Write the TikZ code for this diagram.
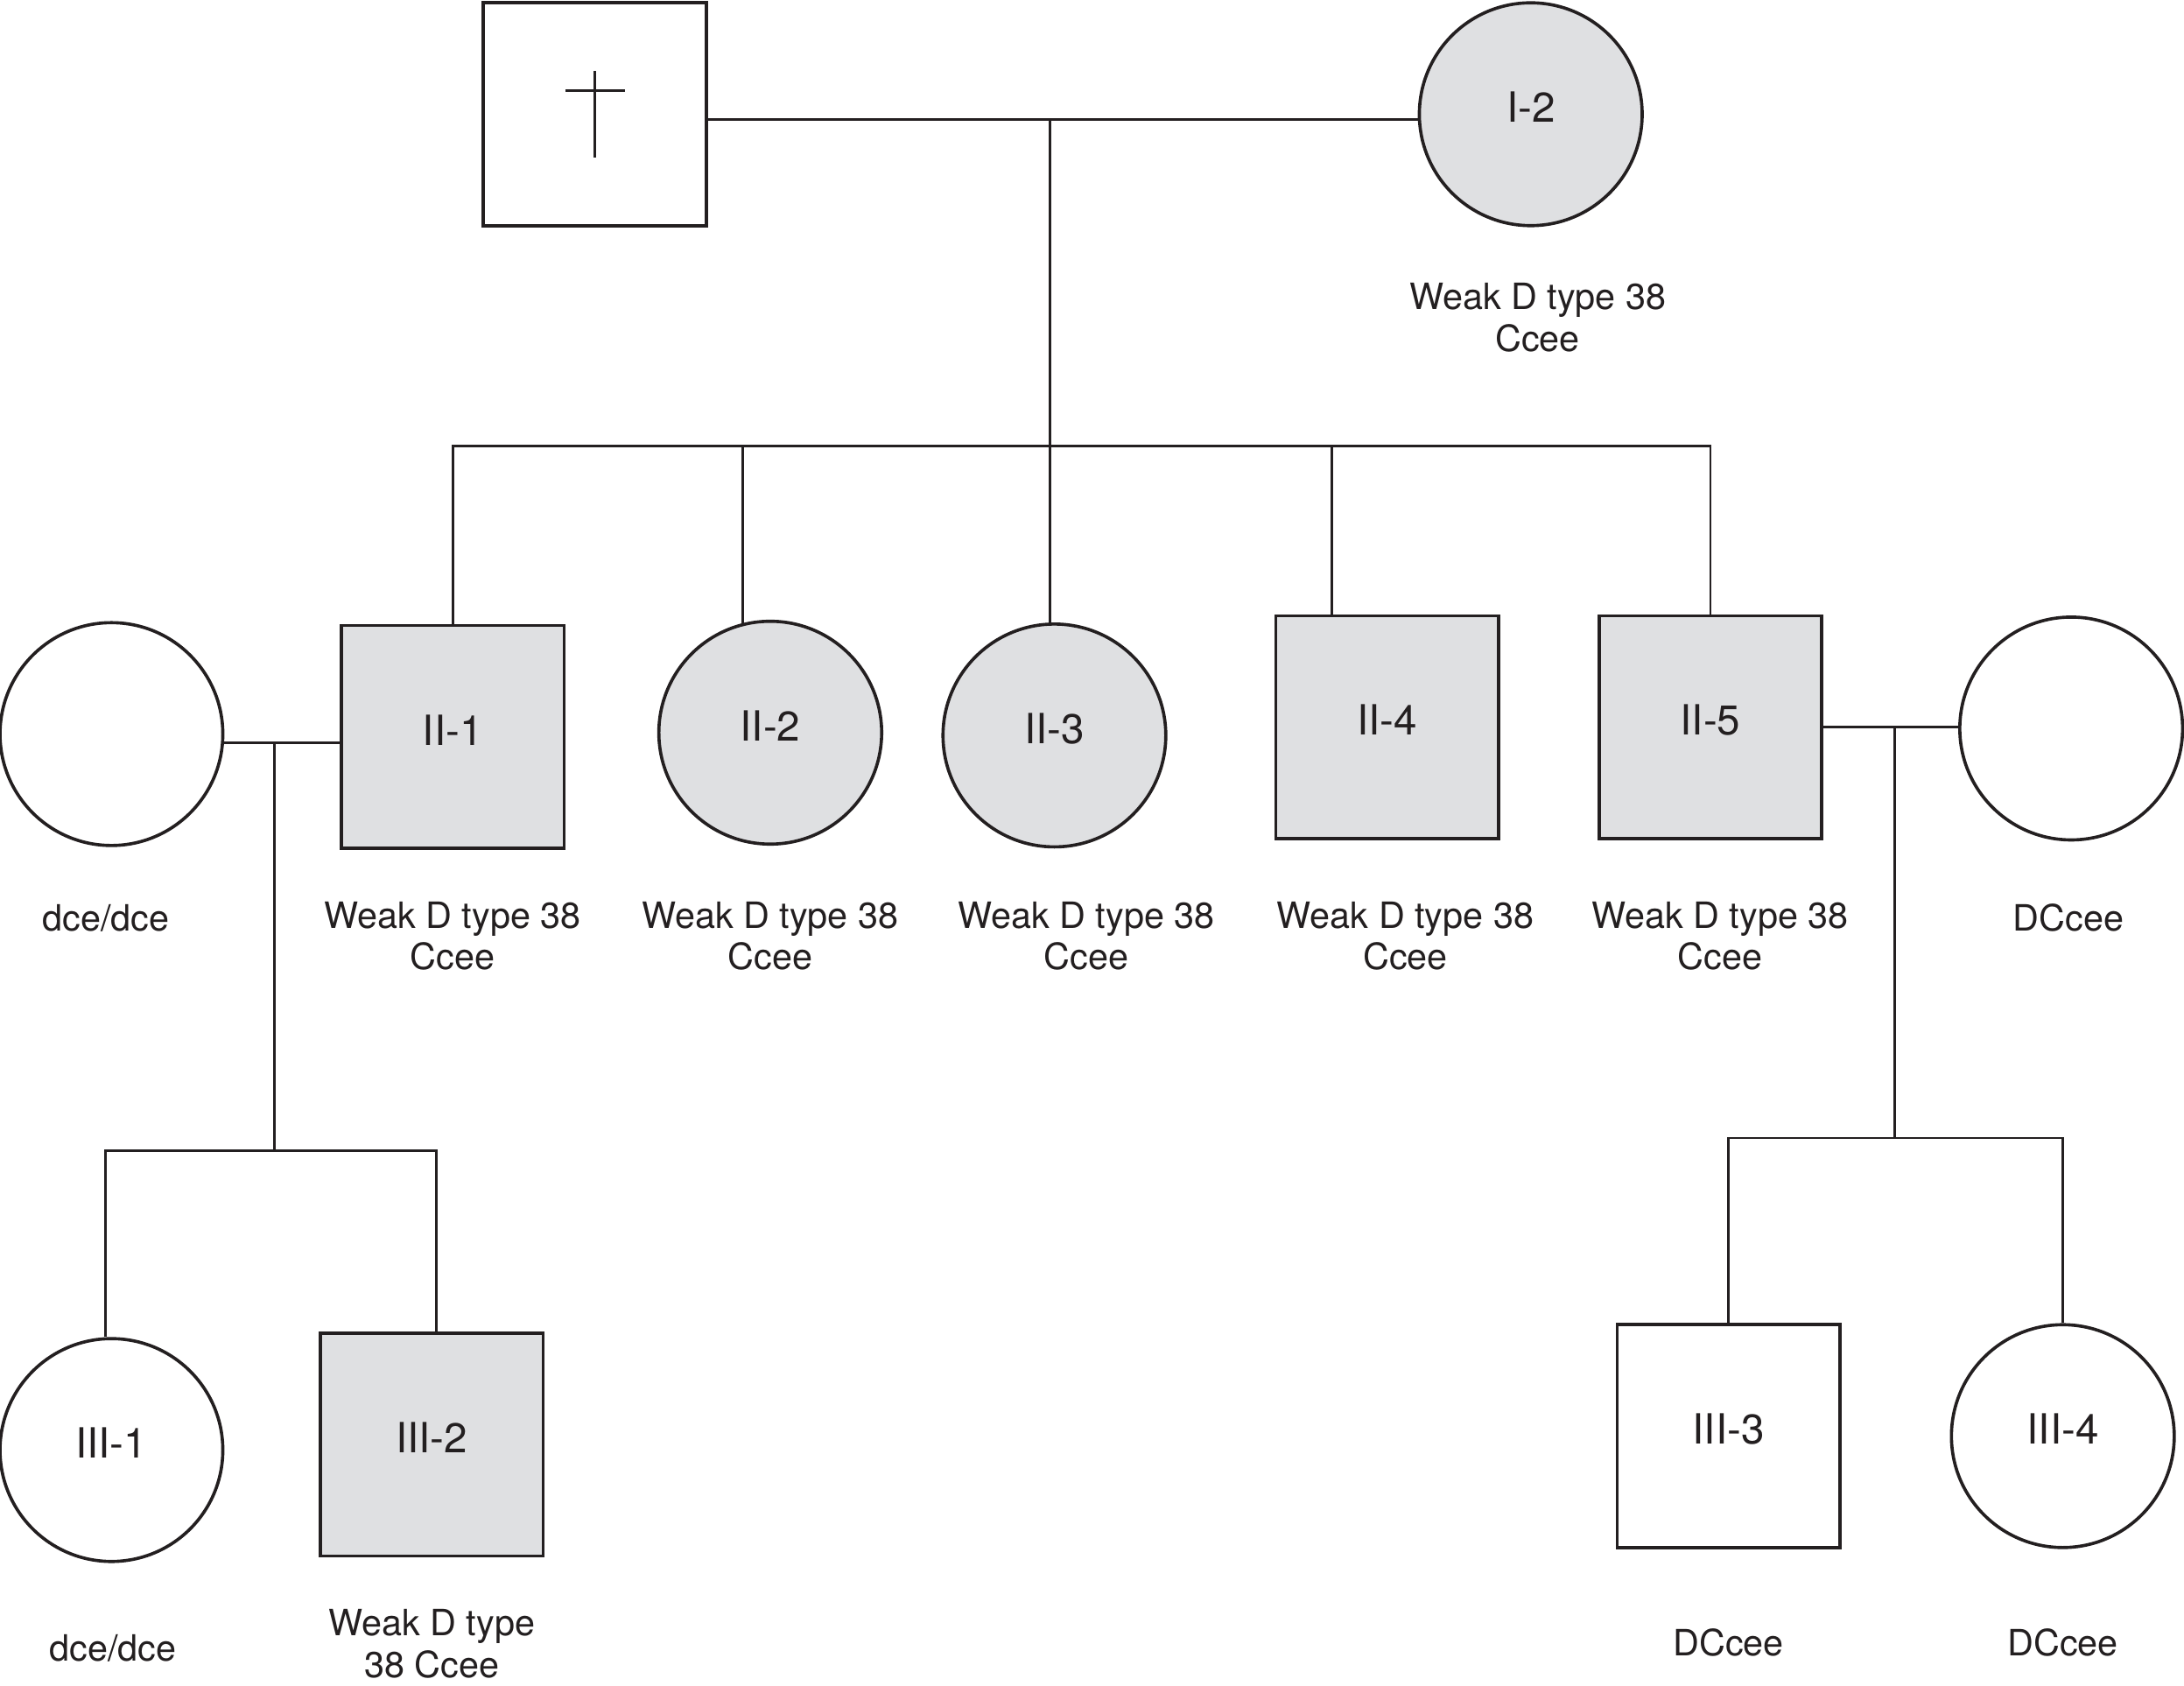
\documentclass[tikz,border=0pt]{standalone}
\usepackage{fontspec}
\setmainfont{TeX Gyre Heros}
\usetikzlibrary{positioning}
\definecolor{pedline}{RGB}{35,31,32}
\definecolor{pedgrey}{RGB}{223,224,226}

\begin{document}
\begin{tikzpicture}[x=0.02cm,y=-0.02cm,
  every node/.style={font=\fontsize{14.8}{17}\selectfont,text=pedline},
  male/.style={rectangle,draw=pedline,line width=1.3pt,minimum size=3.2cm,text depth=0.2cm,font=\fontsize{17}{20}\selectfont},
  female/.style={circle,draw=pedline,line width=1.3pt,minimum size=3.2cm,text depth=0.2cm,font=\fontsize{17}{20}\selectfont},
  carrier/.style={fill=pedgrey},
  geno/.style={align=center,inner sep=0pt},
  link/.style={draw=pedline,line width=1.05pt}]
  \useasboundingbox (0,0) rectangle (1568,1210);
  % generation I
  \node[male] (I1) at (427,82) {};
  \node[female,carrier] (I2) at (1099,82) {I-2};
  \draw[link] (427,51) -- (427,113) (406,65) -- (449,65);
  % generation II
  \node[female] (W1) at (80,527) {};
  \node[male,carrier] (II1) at (325,529) {II-1};
  \node[female,carrier] (II2) at (553,526) {II-2};
  \node[female,carrier] (II3) at (757,528) {II-3};
  \node[male,carrier] (II4) at (996,522) {II-4};
  \node[male,carrier] (II5) at (1228,522) {II-5};
  \node[female] (W5) at (1487,523) {};
  % generation III
  \node[female] (III1) at (80,1041) {III-1};
  \node[male,carrier] (III2) at (310,1037) {III-2};
  \node[male] (III3) at (1241,1031) {III-3};
  \node[female] (III4) at (1481,1031) {III-4};
  % genotypes
  \node[geno] (gI2) at (1104,228) {Weak D type 38\\Ccee};
  \node[geno] (gW1) at (76,659) {dce/dce};
  \node[geno] (gII1) at (325,672) {Weak D type 38\\Ccee};
  \node[geno] (gII2) at (553,672) {Weak D type 38\\Ccee};
  \node[geno] (gII3) at (780,672) {Weak D type 38\\Ccee};
  \node[geno] (gII4) at (1009,672) {Weak D type 38\\Ccee};
  \node[geno] (gII5) at (1235,672) {Weak D type 38\\Ccee};
  \node[geno] (gW5) at (1485,659) {DCcee};
  \node[geno] (gIII1) at (81,1183) {dce/dce};
  \node[geno] (gIII2) at (310,1180) {Weak D type\\38 Ccee};
  \node[geno] (gIII3) at (1241,1179) {DCcee};
  \node[geno] (gIII4) at (1481,1179) {DCcee};
  % lines of descent
  \coordinate (m1) at (754,86);
  \coordinate (s1) at (754,320);
  \coordinate (m2) at (197,533);
  \coordinate (s2) at (197,826);
  \coordinate (m3) at (1360,522);
  \coordinate (s3) at (1360,817);
  \draw[link] (I1.east |- m1) -- (I2.west |- m1);
  \draw[link] (m1) -- (s1);
  \draw[link] (II1.north) |- (II5.north |- s1) -- (II5.north);
  \draw[link] (II2.104.5) -- (II2.104.5 |- s1);
  \draw[link] (s1) -- (s1 |- II3.north);
  \draw[link] ([xshift=-0.8cm]II4.north) -- ([xshift=-0.8cm]II4.north |- s1);
  \draw[link] (W1.east |- m2) -- (II1.west |- m2);
  \draw[link] (m2) -- (s2);
  \draw[link] ([xshift=-0.08cm]III1.north) |- (s2) -| ([xshift=0.06cm]III2.north);
  \draw[link] (II5.east |- m3) -- (W5.west |- m3);
  \draw[link] (m3) -- (s3);
  \draw[link] (III3.north) |- (s3) -| (III4.north);
\end{tikzpicture}
\end{document}
